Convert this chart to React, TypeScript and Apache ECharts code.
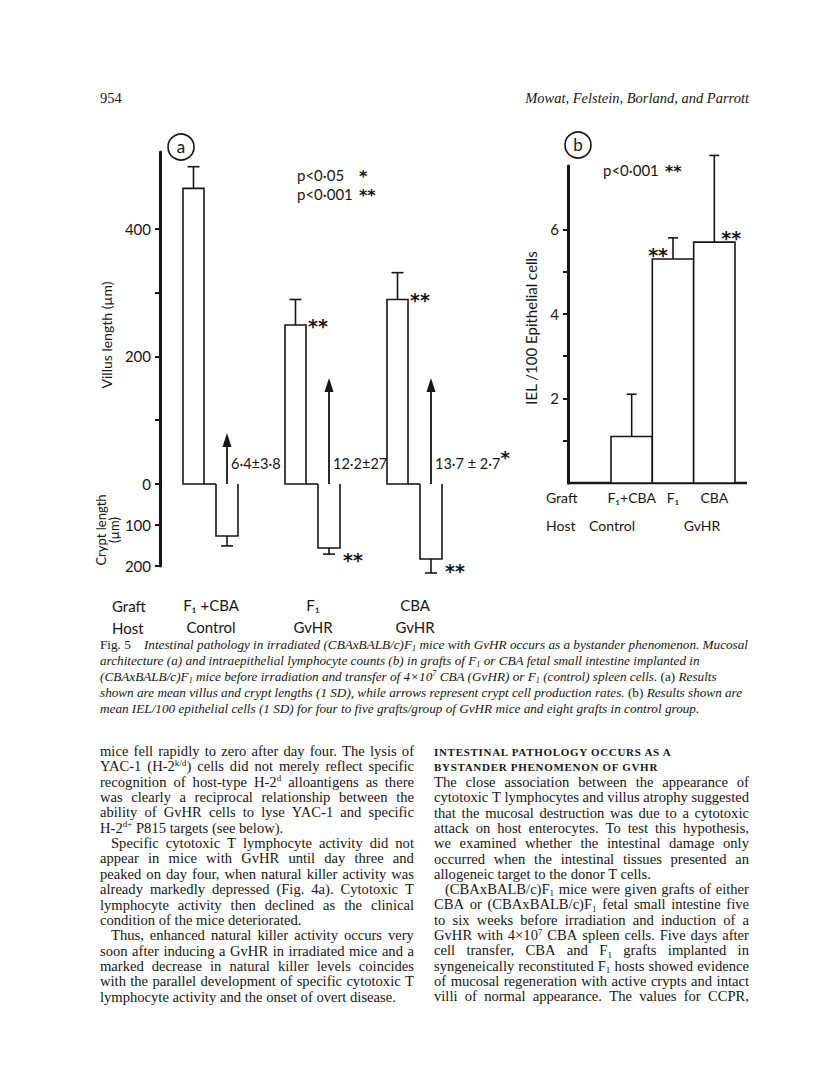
import React, { useEffect, useRef } from 'react';
import * as echarts from 'echarts';

// ---------------- data: panel (a) ----------------
const graftA = ['F₁ +CBA', 'F₁', 'CBA'];
const hostA = ['Control', 'GvHR', 'GvHR'];
const villusMean = [463, 249, 289];
const villusSD = [34, 40, 42];
const villusSig = ['', '**', '**'];
const cryptMean = [127, 156, 183];
const cryptSD = [24, 15, 34];
const cryptSig = ['', '**', '**'];
const ccprArrow = [80, 166, 166];
const ccprText = ['6·4±3·8', '12·2±27', '13·7 ± 2·7'];
const ccprSig = ['', '*', '*'];
const villusTicks = [0, 100, 200, 300, 400];
const villusTickLabels = [0, 200, 400];
const cryptTicks = [0, 100, 200];
const cryptTickLabels = [100, 200];
const pNotesA = [
  ['p<0·05', '*'],
  ['p<0·001', '**'],
];

// ---------------- data: panel (b) ----------------
const graftB = ['F₁+CBA', 'F₁', 'CBA'];
const hostB = ['Control', 'GvHR'];
const ielMean = [1.1, 5.3, 5.7];
const ielSD = [1.0, 0.5, 2.05];
const ielSig = ['', '**', '**'];
const ielTicks = [1, 2, 3, 4, 5, 6];
const ielTickLabels = [2, 4, 6];
const pNoteB = ['p<0·001', '**'];

// ---------------- page text ----------------
const headerLeft = '954';
const headerRight = 'Mowat, Felstein, Borland, and Parrott';
const captionLines = [
  '~{Fig. 5}\u00a0\u00a0\u00a0 Intestinal pathology in irradiated (CBAxBALB/c)F_{1} mice with GvHR occurs as a bystander phenomenon. Mucosal',
  'architecture (a) and intraepithelial lymphocyte counts (b) in grafts of F_{1} or CBA fetal small intestine implanted in',
  '(CBAxBALB/c)F_{1} mice before irradiation and transfer of 4×10^{7} CBA (GvHR) or F_{1} (control) spleen cells. ~{(a)} Results',
  'shown are mean villus and crypt lengths (1 SD), while arrows represent crypt cell production rates. ~{(b)} Results shown are',
  'mean IEL/100 epithelial cells (1 SD) for four to five grafts/group of GvHR mice and eight grafts in control group.',
];
type Ln = { t: string; indent?: boolean; last?: boolean };
const leftColumn: Ln[] = [
  { t: 'mice fell rapidly to zero after day four. The lysis of' },
  { t: 'YAC-1 (H-2^{k/d}) cells did not merely reflect specific' },
  { t: 'recognition of host-type H-2^{d} alloantigens as there' },
  { t: 'was clearly a reciprocal relationship between the' },
  { t: 'ability of GvHR cells to lyse YAC-1 and specific' },
  { t: 'H-2^{d+} P815 targets (see below).', last: true },
  { t: 'Specific cytotoxic T lymphocyte activity did not', indent: true },
  { t: 'appear in mice with GvHR until day three and' },
  { t: 'peaked on day four, when natural killer activity was' },
  { t: 'already markedly depressed (Fig. 4a). Cytotoxic T' },
  { t: 'lymphocyte activity then declined as the clinical' },
  { t: 'condition of the mice deteriorated.', last: true },
  { t: 'Thus, enhanced natural killer activity occurs very', indent: true },
  { t: 'soon after inducing a GvHR in irradiated mice and a' },
  { t: 'marked decrease in natural killer levels coincides' },
  { t: 'with the parallel development of specific cytotoxic T' },
  { t: 'lymphocyte activity and the onset of overt disease.', last: true },
];
const rightHeading = ['INTESTINAL PATHOLOGY OCCURS AS A', 'BYSTANDER PHENOMENON OF GVHR'];
const rightColumn: Ln[] = [
  { t: 'The close association between the appearance of' },
  { t: 'cytotoxic T lymphocytes and villus atrophy suggested' },
  { t: 'that the mucosal destruction was due to a cytotoxic' },
  { t: 'attack on host enterocytes. To test this hypothesis,' },
  { t: 'we examined whether the intestinal damage only' },
  { t: 'occurred when the intestinal tissues presented an' },
  { t: 'allogeneic target to the donor T cells.', last: true },
  { t: '(CBAxBALB/c)F_{1} mice were given grafts of either', indent: true },
  { t: 'CBA or (CBAxBALB/c)F_{1} fetal small intestine five' },
  { t: 'to six weeks before irradiation and induction of a' },
  { t: 'GvHR with 4×10^{7} CBA spleen cells. Five days after' },
  { t: 'cell transfer, CBA and F_{1} grafts implanted in' },
  { t: 'syngeneically reconstituted F_{1} hosts showed evidence' },
  { t: 'of mucosal regeneration with active crypts and intact' },
  { t: 'villi of normal appearance. The values for CCPR,' },
];

// ---------------- styling ----------------
const INK = '#161616';
const FIG = 'Lato, "Liberation Sans", sans-serif';
const STAR = '"DejaVu Sans", sans-serif';
const SERIF = '"Liberation Serif", "Times New Roman", serif';

const S = (w = 1.6) => ({ stroke: INK, lineWidth: w, fill: 'none' });
const T = (text: string, size: number, align = 'left', extra: any = {}) => ({
  text,
  fill: INK,
  fontSize: size,
  fontFamily: FIG,
  align,
  textAlign: align,
  verticalAlign: 'middle',
  textVerticalAlign: 'middle',
  ...extra,
});
const starStyle = (text: string, align = 'left', size = 19) =>
  T(text, size, align, { fontFamily: STAR, fontWeight: 'bold' });

function note(x: number, y: number, pair: string[]) {
  return [
    { type: 'text', x, y, style: T(pair[0], 15) },
    { type: 'text', x: x + 62, y: y + 1, style: starStyle(pair[1], 'left', 16) },
  ];
}

function renderVillus(_p: any, api: any) {
  const i = api.value(0);
  const v = api.value(1);
  const sd = api.value(2);
  const ar = api.value(3);
  const base = api.coord([i, 0]);
  const c = base[0];
  const y0 = base[1];
  const yt = api.coord([i, v])[1];
  const ye = api.coord([i, v + sd])[1];
  const ya = api.coord([i, ar])[1];
  const vl = c - 28;
  const vr = c - 7;
  const vc = (vl + vr) / 2;
  const cl = c + 5;
  const ac = c + 16;
  const kids: any[] = [
    { type: 'rect', shape: { x: vl, y: yt, width: vr - vl, height: y0 - yt }, style: { fill: '#fff', stroke: INK, lineWidth: 1.6 } },
    { type: 'line', shape: { x1: vc, y1: yt, x2: vc, y2: ye }, style: S() },
    { type: 'line', shape: { x1: vc - 6, y1: ye, x2: vc + 6, y2: ye }, style: S() },
    { type: 'line', shape: { x1: vr, y1: y0, x2: cl, y2: y0 }, style: S() },
    { type: 'line', shape: { x1: ac, y1: y0, x2: ac, y2: ya + 10 }, style: S(1.8) },
    { type: 'polygon', shape: { points: [[ac, ya], [ac - 4.5, ya + 14], [ac + 4.5, ya + 14]] }, style: { fill: INK } },
    {
      type: 'text',
      x: ac + 4,
      y: y0 - 21,
      style: {
        ...T('', 14.5),
        text: `{n|${ccprText[i]}}` + (ccprSig[i] ? `{s|${ccprSig[i]}}` : ''),
        rich: {
          n: { fontSize: 14.5, fontFamily: FIG, fill: INK, lineHeight: 30 },
          s: { fontSize: 18, fontFamily: STAR, fontWeight: 'bold', fill: INK, lineHeight: 20, verticalAlign: 'top' },
        },
      },
    },
  ];
  if (villusSig[i]) {
    kids.push({ type: 'text', x: vr + 2, y: yt + 1, style: starStyle(villusSig[i]) });
  }
  return { type: 'group', children: kids };
}

function renderCrypt(_p: any, api: any) {
  const i = api.value(0);
  const v = api.value(1);
  const sd = api.value(2);
  const base = api.coord([i, 0]);
  const c = base[0];
  const y0 = base[1];
  const yb = api.coord([i, v])[1];
  const ye = api.coord([i, v + sd])[1];
  const cl = c + 5;
  const cr = c + 27;
  const cc = (cl + cr) / 2;
  const kids: any[] = [
    { type: 'polyline', shape: { points: [[cl, y0], [cl, yb], [cr, yb], [cr, y0]] }, style: S() },
    { type: 'line', shape: { x1: cc, y1: yb, x2: cc, y2: ye }, style: S() },
    { type: 'line', shape: { x1: cc - 6, y1: ye, x2: cc + 6, y2: ye }, style: S() },
  ];
  if (cryptSig[i]) {
    kids.push({ type: 'text', x: cr + 3, y: yb + 12, style: starStyle(cryptSig[i]) });
  }
  return { type: 'group', children: kids };
}

function renderIEL(_p: any, api: any) {
  const i = api.value(0);
  const v = api.value(1);
  const sd = api.value(2);
  const base = api.coord([i, 0]);
  const c = base[0];
  const y0 = base[1];
  const yt = api.coord([i, v])[1];
  const ye = api.coord([i, v + sd])[1];
  const w = api.size([1, 0])[0];
  const kids: any[] = [
    { type: 'rect', shape: { x: c - w / 2, y: yt, width: w, height: y0 - yt }, style: { fill: '#fff', stroke: INK, lineWidth: 1.6 } },
    { type: 'line', shape: { x1: c, y1: yt, x2: c, y2: ye }, style: S() },
    { type: 'line', shape: { x1: c - 5, y1: ye, x2: c + 5, y2: ye }, style: S() },
  ];
  if (ielSig[i]) {
    const left = i === 1;
    kids.push({
      type: 'text',
      x: left ? c - 5 : c + 7,
      y: yt - 4,
      style: starStyle(ielSig[i], left ? 'right' : 'left'),
    });
  }
  return { type: 'group', children: kids };
}

function buildOption(): any {
  const axisLine = { show: true, lineStyle: { color: INK, width: 3 } };
  const ticks = (vals: number[]) => ({ show: true, length: 5, inside: false, customValues: vals, lineStyle: { color: INK, width: 2 } });
  const labels = (vals: number[]) => ({ show: true, customValues: vals, color: INK, fontSize: 15, fontFamily: FIG, margin: 9 });
  const richRow = {
    g: { fontSize: 15, fontFamily: FIG, color: INK, lineHeight: 22 },
    h: { fontSize: 15, fontFamily: FIG, color: INK, lineHeight: 22 },
  };
  return {
    animation: false,
    grid: [
      { left: 160, top: 152, width: 306, height: 332 },
      { left: 160, top: 484, width: 306, height: 82 },
      { left: 611, top: 166, width: 124, height: 317 },
    ],
    xAxis: [
      { type: 'category', gridIndex: 0, data: graftA, show: false },
      {
        type: 'category',
        gridIndex: 1,
        data: graftA,
        axisLine: { show: false },
        axisTick: { show: false },
        axisLabel: {
          interval: 0,
          margin: 28,
          formatter: (v: string, idx: number) => `{g|${v}}\n{h|${hostA[idx]}}`,
          rich: richRow,
        },
      },
      {
        type: 'category',
        gridIndex: 2,
        data: graftB,
        axisLine: { show: false },
        axisTick: { show: false },
        axisLabel: { interval: 0, margin: 7, color: INK, fontSize: 14, fontFamily: FIG },
      },
    ],
    yAxis: [
      { type: 'value', gridIndex: 0, min: 0, max: 520, axisLine, axisTick: ticks(villusTicks), axisLabel: labels(villusTickLabels), splitLine: { show: false } },
      { type: 'value', gridIndex: 1, min: 0, max: 200, inverse: true, axisLine, axisTick: ticks(cryptTicks), axisLabel: labels(cryptTickLabels), splitLine: { show: false } },
      { type: 'value', gridIndex: 2, min: 0, max: 7.5, offset: 43, axisLine, axisTick: ticks(ielTicks), axisLabel: labels(ielTickLabels), splitLine: { show: false } },
    ],
    series: [
      {
        type: 'custom',
        name: 'Villus length',
        xAxisIndex: 0,
        yAxisIndex: 0,
        encode: { x: 0, y: 1 },
        clip: false,
        data: villusMean.map((v, i) => [i, v, villusSD[i], ccprArrow[i]]),
        renderItem: renderVillus,
      },
      {
        type: 'custom',
        name: 'Crypt length',
        xAxisIndex: 1,
        yAxisIndex: 1,
        encode: { x: 0, y: 1 },
        clip: false,
        data: cryptMean.map((v, i) => [i, v, cryptSD[i]]),
        renderItem: renderCrypt,
      },
      {
        type: 'custom',
        name: 'IEL/100 epithelial cells',
        xAxisIndex: 2,
        yAxisIndex: 2,
        encode: { x: 0, y: 1 },
        clip: false,
        data: ielMean.map((v, i) => [i, v, ielSD[i]]),
        renderItem: renderIEL,
      },
    ],
    graphic: [
      // panel labels
      { type: 'circle', shape: { cx: 181, cy: 147, r: 13 }, style: { fill: 'none', stroke: INK, lineWidth: 1.6 } },
      { type: 'text', x: 181, y: 146, style: T('a', 17, 'center') },
      { type: 'circle', shape: { cx: 578, cy: 145, r: 13 }, style: { fill: 'none', stroke: INK, lineWidth: 1.6 } },
      { type: 'text', x: 578, y: 144, style: T('b', 17, 'center') },
      // significance notes
      ...note(297, 175, pNotesA[0]),
      ...note(297, 194, pNotesA[1]),
      ...note(603, 170, pNoteB),
      // axis titles
      { type: 'text', x: 106, y: 335, rotation: Math.PI / 2, style: T('Villus length (µm)', 14, 'center') },
      { type: 'text', x: 107, y: 530, rotation: Math.PI / 2, style: T('Crypt length\n(µm)', 13, 'center', { lineHeight: 13 }) },
      { type: 'text', x: 531, y: 328, rotation: Math.PI / 2, style: T('IEL /100 Epithelial cells', 15, 'center') },
      // row labels
      { type: 'text', x: 112, y: 606, style: T('Graft', 15) },
      { type: 'text', x: 112, y: 628, style: T('Host', 15) },
      { type: 'text', x: 546, y: 497, style: T('Graft', 14) },
      { type: 'text', x: 546, y: 525, style: T('Host', 14) },
      { type: 'text', x: 612, y: 525, style: T(hostB[0], 14, 'center') },
      { type: 'text', x: 702, y: 525, style: T(hostB[1], 14, 'center') },
      // panel (b) baseline
      { type: 'line', shape: { x1: 567, y1: 483, x2: 747, y2: 483 }, style: S(2.6) },
    ],
  };
}

// ---------- HTML text helpers ----------
function Rich({ s }: { s: string }) {
  const parts = s.split(/(\^\{[^}]*\}|_\{[^}]*\}|~\{[^}]*\})/);
  return (
    <>
      {parts.map((p, i) => {
        if (p.startsWith('^{'))
          return (
            <span key={i} style={{ fontSize: '0.62em', position: 'relative', top: '-0.6em' }}>
              {p.slice(2, -1)}
            </span>
          );
        if (p.startsWith('_{'))
          return (
            <span key={i} style={{ fontSize: '0.62em', position: 'relative', top: '0.25em' }}>
              {p.slice(2, -1)}
            </span>
          );
        if (p.startsWith('~{'))
          return (
            <span key={i} style={{ fontStyle: 'normal' }}>
              {p.slice(2, -1)}
            </span>
          );
        return <React.Fragment key={i}>{p}</React.Fragment>;
      })}
    </>
  );
}

function Column({ lines, x, y0, dy, w }: { lines: Ln[]; x: number; y0: number; dy: number; w: number }) {
  return (
    <>
      {lines.map((ln, k) => {
        const base: React.CSSProperties = {
          position: 'absolute',
          left: x,
          top: y0 + k * dy - 9,
          width: w,
          height: 18,
          lineHeight: '18px',
          fontFamily: SERIF,
          fontSize: 14.6,
          color: INK,
          whiteSpace: 'nowrap',
          boxSizing: 'border-box',
          paddingLeft: ln.indent ? 11 : 0,
        };
        if (ln.last) {
          return (
            <div key={k} style={base}>
              <Rich s={ln.t} />
            </div>
          );
        }
        const words = ln.t.split(' ');
        return (
          <div key={k} style={{ ...base, display: 'flex', justifyContent: 'space-between' }}>
            {words.map((wd, j) => (
              <span key={j}>
                <Rich s={wd} />
              </span>
            ))}
          </div>
        );
      })}
    </>
  );
}

export default function App() {
  const ref = useRef<HTMLDivElement>(null);
  useEffect(() => {
    if (!ref.current) return;
    const chart = echarts.init(ref.current, null, { renderer: 'svg' });
    chart.setOption(buildOption());
    return () => chart.dispose();
  }, []);

  return (
    <div style={{ position: 'absolute', left: 0, top: 0, width: 816, height: 1086, background: '#fff', overflow: 'hidden' }}>
      <div ref={ref} style={{ position: 'absolute', left: 0, top: 0, width: 816, height: 1086 }} />
      {/* running header */}
      <div style={{ position: 'absolute', left: 100, top: 89, fontFamily: SERIF, fontSize: 14.5, lineHeight: '18px', color: INK }}>{headerLeft}</div>
      <div style={{ position: 'absolute', right: 67, top: 89, fontFamily: SERIF, fontSize: 14.5, fontStyle: 'italic', lineHeight: '18px', color: INK, whiteSpace: 'nowrap' }}>
        {headerRight}
      </div>
      {/* caption */}
      {captionLines.map((c, k) => (
        <div
          key={k}
          style={{
            position: 'absolute',
            left: 100,
            top: 645 + k * 16 - 8,
            height: 16,
            lineHeight: '16px',
            fontFamily: SERIF,
            fontSize: 13.2,
            fontStyle: 'italic',
            color: INK,
            whiteSpace: 'nowrap',
          }}
        >
          <Rich s={c} />
        </div>
      ))}
      {/* body text */}
      <Column lines={leftColumn} x={100} y0={751} dy={15.35} w={314} />
      {rightHeading.map((h, k) => (
        <div
          key={k}
          style={{
            position: 'absolute',
            left: 434,
            top: 752 + k * 14.6 - 8,
            height: 16,
            lineHeight: '16px',
            fontFamily: SERIF,
            fontSize: 11,
            fontWeight: 'bold',
            letterSpacing: '0.7px',
            color: INK,
            whiteSpace: 'nowrap',
          }}
        >
          {h}
        </div>
      ))}
      <Column lines={rightColumn} x={434} y0={782} dy={15.3} w={315} />
    </div>
  );
}
